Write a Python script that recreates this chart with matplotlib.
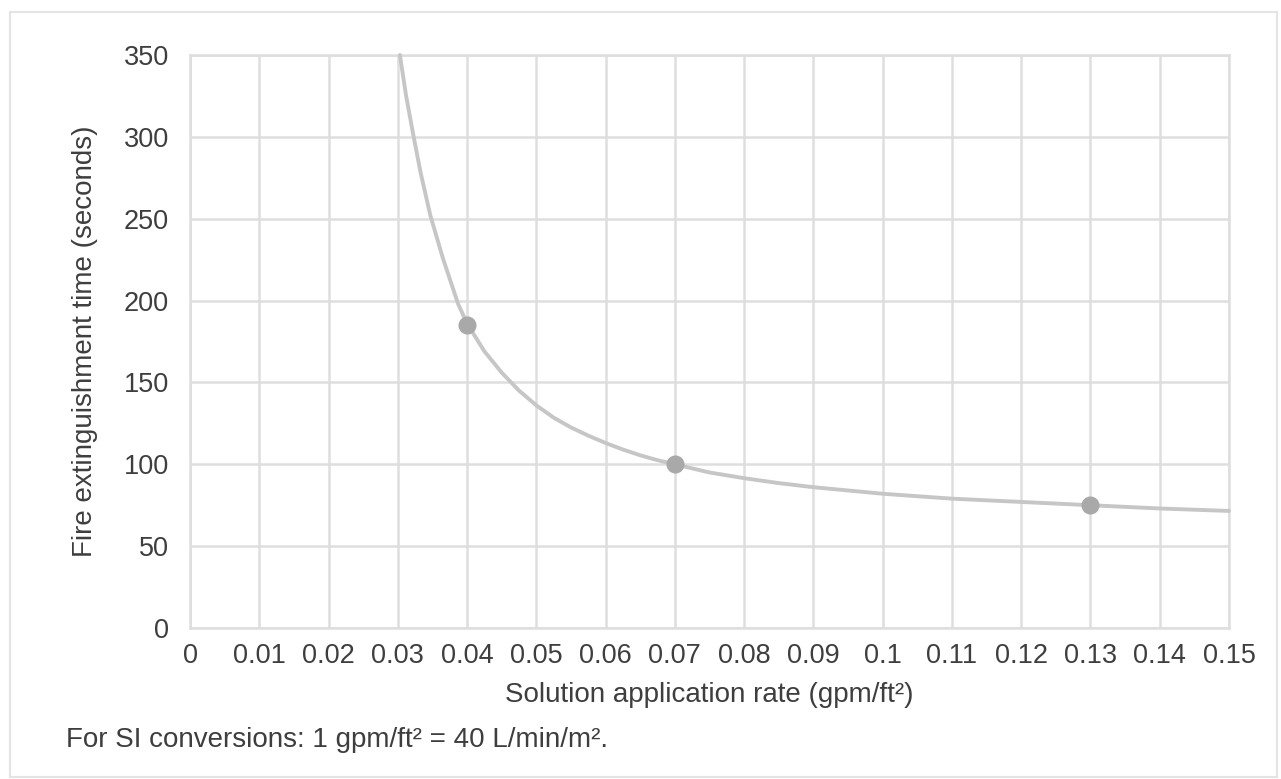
"""
Fire extinguishment time vs. solution application rate.
"""

import matplotlib

matplotlib.use("Agg")
import matplotlib.pyplot as plt
from matplotlib.patches import Rectangle

# --- data ---
rate_curve = [0.0303, 0.0312, 0.0322, 0.0333, 0.0347, 0.0365, 0.0387, 0.04,
              0.0425, 0.045, 0.0475, 0.05, 0.0525, 0.055, 0.0575, 0.06,
              0.0625, 0.065, 0.0675, 0.07, 0.075, 0.08, 0.085, 0.09, 0.095,
              0.10, 0.11, 0.12, 0.13, 0.14, 0.15]
time_curve = [350, 325, 302, 278, 252, 226, 198, 186,
              169, 156, 145, 136, 128.5, 122.5, 117.5, 113,
              109, 105.5, 102.5, 100, 95, 91.5, 88.5, 86, 84,
              82, 79, 77, 75, 73, 71.5]

rate_points = [0.04, 0.07, 0.13]
time_points = [185, 100, 75]

x_ticks = [i / 100 for i in range(16)]
x_ticklabels = ["0", "0.01", "0.02", "0.03", "0.04", "0.05", "0.06", "0.07",
                "0.08", "0.09", "0.1", "0.11", "0.12", "0.13", "0.14", "0.15"]
y_ticks = [0, 50, 100, 150, 200, 250, 300, 350]

plt.rcParams["font.family"] = ["Liberation Sans", "DejaVu Sans"]
txt = "#3e3e3e"
grid_c = "#dedede"
fs = 20

W, H = 1281, 779
fig = plt.figure(figsize=(W / 100, H / 100), dpi=100)
ax = fig.add_axes([190 / W, 1 - 628 / H, (1229 - 190) / W, (628 - 55) / H])

ax.plot(rate_curve, time_curve, color="#c6c6c6", lw=2.8, solid_capstyle="round",
        solid_joinstyle="round", zorder=3, clip_on=False)
ax.plot(rate_points, time_points, "o", color="#a9a9a9", ms=12, mec="#a9a9a9",
        zorder=4, clip_on=False)

ax.set_xlim(0, 0.15)
ax.set_ylim(0, 350)
ax.set_xticks(x_ticks)
ax.set_xticklabels(x_ticklabels)
ax.set_yticks(y_ticks)
ax.tick_params(length=0, labelsize=19.5, colors=txt)
ax.tick_params(axis="x", pad=11)
ax.tick_params(axis="y", pad=15)
ax.grid(True, color=grid_c, lw=1.8)
ax.set_axisbelow(True)
for sp in ax.spines.values():
    sp.set_color(grid_c)
    sp.set_linewidth(1.8)

ax.set_xlabel("Solution application rate (gpm/ft²)", fontsize=fs, color=txt,
              labelpad=9)
ax.set_ylabel("Fire extinguishment time (seconds)", fontsize=fs, color=txt,
              labelpad=19)

fig.text(66 / W, 1 - 740 / H, "For SI conversions: 1 gpm/ft² = 40 L/min/m².",
         fontsize=fs, color=txt, va="center", ha="left")

# light frame around the whole figure
fig.patches.append(Rectangle((10 / W, 1 - 777 / H), (1277 - 10) / W, (777 - 12) / H,
                             transform=fig.transFigure, fill=False,
                             ec="#e4e4e4", lw=1.5))

fig.savefig("out.png", dpi=100)
